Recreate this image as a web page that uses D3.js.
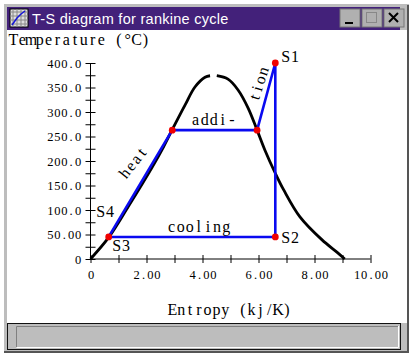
<html>
    <head>
        <title>T-S diagram for rankine cycle</title>
        <script src="https://d3js.org/d3.v7.min.js"></script>
        <style>
            body { margin: 0; background: #fff; }
            svg { display: block; }
            text { font-family: "Liberation Serif", serif; fill: #000; }
        </style>
    </head>
    <body>
        <script>
            // saturation dome (there is a small gap at the top)
            const liquidEntropy = [0, 0.65, 1.35, 2.18, 2.6, 2.91, 3.375, 3.73, 4.09, 4.27];
            const liquidTemp = [0, 44, 107, 185, 228, 263, 314, 351, 371, 374];
            const vaporEntropy = [4.51, 4.91, 5.27, 5.63, 5.95, 6.23, 6.6, 6.9, 7.48, 8.27, 8.8, 9.08];
            const vaporTemp = [374, 367, 345, 308, 263, 222, 175, 141, 86, 39, 14, 0];

            // rankine cycle S1 -> S2 -> S3 -> S4 -> heating -> boiling -> S1
            const cycleEntropy = [6.6, 6.6, 0.65, 0.68, 2.92, 5.95, 6.6];
            const cycleTemp = [400, 45, 45, 48, 263, 263, 400];

            const dotEntropy = [6.6, 6.6, 0.65, 2.92, 5.95];
            const dotTemp = [400, 45, 45, 263, 263];

            const xTicks = [0, 1, 2, 3, 4, 5, 6, 7, 8, 9, 10];
            const xLabels = ["0", "", "2.00", "", "4.00", "", "6.00", "", "8.00", "", "10.00"];
            const yTicks = d3.range(0, 401, 25);
            const yLabels = { 0: "0", 50: "50.00", 100: "100.0", 150: "150.0", 200: "200.0", 250: "250.0", 300: "300.0", 350: "350.0", 400: "400.0" };

            const w = 415;
            const h = 358;

            const svg = d3.select("body")
                .append("svg")
                .attr("width", w)
                .attr("height", h);

            // window frame
            svg.append("rect").attr("x", 4).attr("y", 4).attr("width", 405).attr("height", 349).attr("fill", "#bdbdbd");
            svg.append("rect").attr("x", 407).attr("y", 5).attr("width", 2).attr("height", 348).attr("fill", "#555");
            svg.append("rect").attr("x", 4).attr("y", 351).attr("width", 405).attr("height", 2).attr("fill", "#555");
            svg.append("rect").attr("x", 7).attr("y", 30).attr("width", 400).attr("height", 293).attr("fill", "#fff");

            // title bar
            svg.append("rect").attr("x", 7).attr("y", 7).attr("width", 393).attr("height", 23).attr("fill", "#43217a");
            svg.append("text")
                .attr("x", 32)
                .attr("y", 24)
                .style("font-family", "'Liberation Sans', sans-serif")
                .style("font-size", "14.5px")
                .style("letter-spacing", "0.28px")
                .style("fill", "#fff")
                .text("T-S diagram for rankine cycle");

            // title icon
            const icon = svg.append("g").attr("transform", "translate(10,9)");
            icon.append("rect").attr("width", 18).attr("height", 18).attr("fill", "#ddd").attr("stroke", "#000");
            d3.range(3, 18, 4).forEach(d => {
                icon.append("line").attr("x1", d).attr("x2", d).attr("y1", 0).attr("y2", 18).attr("stroke", "#888");
                icon.append("line").attr("y1", d).attr("y2", d).attr("x1", 0).attr("x2", 18).attr("stroke", "#888");
            });
            icon.append("path").attr("d", "M2,16 L7,9 L11,5 L15,2").attr("fill", "none").attr("stroke", "#1414d8").attr("stroke-width", 1.5);

            // window buttons
            const buttons = [[340, "min"], [362, "max"], [384, "close"]];
            buttons.forEach(b => {
                const g = svg.append("g").attr("transform", "translate(" + b[0] + ",9)");
                g.append("rect").attr("width", 20).attr("height", 18).attr("fill", "#b0b0b0").attr("stroke", "#777");
                if (b[1] === "min") {
                    g.append("rect").attr("x", 5).attr("y", 13).attr("width", 8).attr("height", 2).attr("fill", "#000");
                } else if (b[1] === "max") {
                    g.append("rect").attr("x", 4.5).attr("y", 3.5).attr("width", 10).attr("height", 10).attr("fill", "none").attr("stroke", "#888");
                } else {
                    g.append("path").attr("d", "M5,4 L14,13 M14,4 L5,13").attr("stroke", "#000").attr("stroke-width", 2);
                }
            });

            // status panel
            svg.append("rect").attr("x", 7.5).attr("y", 323.5).attr("width", 393).attr("height", 26).attr("fill", "#bdbdbd").attr("stroke", "#111");
            svg.append("path").attr("d", "M398,326.5 H16.5 V347").attr("fill", "none").attr("stroke", "#808080");
            svg.append("path").attr("d", "M16.5,347.5 H398.5 V326").attr("fill", "none").attr("stroke", "#fff");

            const xScale = d3.scaleLinear().domain([0, 10]).range([90.5, 370.5]);
            const yScale = d3.scaleLinear().domain([0, 400]).range([259, 63]);

            const xAxis = d3.axisBottom(xScale)
                .tickValues(xTicks)
                .tickSize(4)
                .tickFormat((d, i) => xLabels[i]);
            const yAxis = d3.axisLeft(yScale)
                .tickValues(yTicks)
                .tickSize(5)
                .tickFormat(d => yLabels[d] || "");

            const gx = svg.append("g")
                .attr("id", "x-axis")
                .attr("transform", "translate(0,259)")
                .call(xAxis);
            const gy = svg.append("g")
                .attr("id", "y-axis")
                .attr("transform", "translate(90.5,0)")
                .call(yAxis);

            // fixed pitch serif text: every char gets its own x, and with
            // text-anchor middle each one is centred in its cell
            const charXs = (x, str, pitch) => Array.from(str, (c, i) => x + pitch * (i + 0.5)).join(" ");

            // ticks cross the axis line on both sides
            gx.selectAll("line").attr("y1", -4).attr("y2", 4).attr("stroke", "#000");
            gy.selectAll("line").attr("x1", 5).attr("x2", -5).attr("stroke", "#000");
            gx.select(".domain").attr("d", "M90.5,0 H370.5").attr("stroke", "#000");
            gy.select(".domain").attr("d", "M0,259 V63").attr("stroke", "#000");

            const tickPitch = 6.9;
            gx.selectAll("text")
                .attr("y", 11)
                .attr("x", function() {
                    const s = this.textContent;
                    return charXs(-s.length * tickPitch / 2, s, tickPitch) || 0;
                })
                .style("text-anchor", "middle")
                .style("font-family", "'Liberation Serif', serif")
                .style("font-size", "12.5px");
            gy.selectAll("text")
                .attr("x", function() {
                    const s = this.textContent;
                    return charXs(-9 - s.length * tickPitch, s, tickPitch) || 0;
                })
                .style("text-anchor", "middle")
                .style("font-family", "'Liberation Serif', serif")
                .style("font-size", "12.5px");

            const line = d3.line()
                .x(d => xScale(d[0]))
                .y(d => yScale(d[1]))
                .curve(d3.curveCatmullRom);

            svg.selectAll(".dome")
                .data([d3.zip(liquidEntropy, liquidTemp), d3.zip(vaporEntropy, vaporTemp)])
                .enter()
                .append("path")
                .attr("class", "dome")
                .attr("d", line)
                .attr("fill", "none")
                .attr("stroke", "#000")
                .attr("stroke-width", 2.8);

            svg.append("path")
                .datum(d3.zip(cycleEntropy, cycleTemp))
                .attr("d", line.curve(d3.curveLinear))
                .attr("fill", "none")
                .attr("stroke", "#0a0af0")
                .attr("stroke-width", 2.6);

            svg.selectAll("circle")
                .data(d3.zip(dotEntropy, dotTemp))
                .enter()
                .append("circle")
                .attr("cx", d => xScale(d[0]))
                .attr("cy", d => yScale(d[1]))
                .attr("r", 3.4)
                .attr("fill", "#f00000");

            const label = (x, y, size, pitch, str, rot) => {
                const t = svg.append("text")
                    .attr("x", rot ? charXs(0, str, pitch) : charXs(x, str, pitch))
                    .attr("y", rot ? 0 : y)
                    .style("text-anchor", "middle")
                    .style("font-size", size + "px")
                    .text(str);
                if (rot) t.attr("transform", "translate(" + x + "," + y + ") rotate(" + rot + ")");
                return t;
            };

            label(9, 45, 16, 8.8, "Temperature (°C)");
            label(168, 315, 16, 8.8, "Entropy (kj/K)");
            label(281, 62, 16, 9.3, "S1");
            label(281, 243, 16, 9.3, "S2");
            label(112, 251, 16, 9.3, "S3");
            label(96, 217, 16, 9.3, "S4");
            label(191, 125, 16, 9.1, "addi-");
            label(167, 232, 16, 9.1, "cooling");
            label(126, 180, 16, 9.1, "heat", -52);
            label(258, 103, 16, 9.1, "tion", -72);
        </script>
    </body>
</html>
